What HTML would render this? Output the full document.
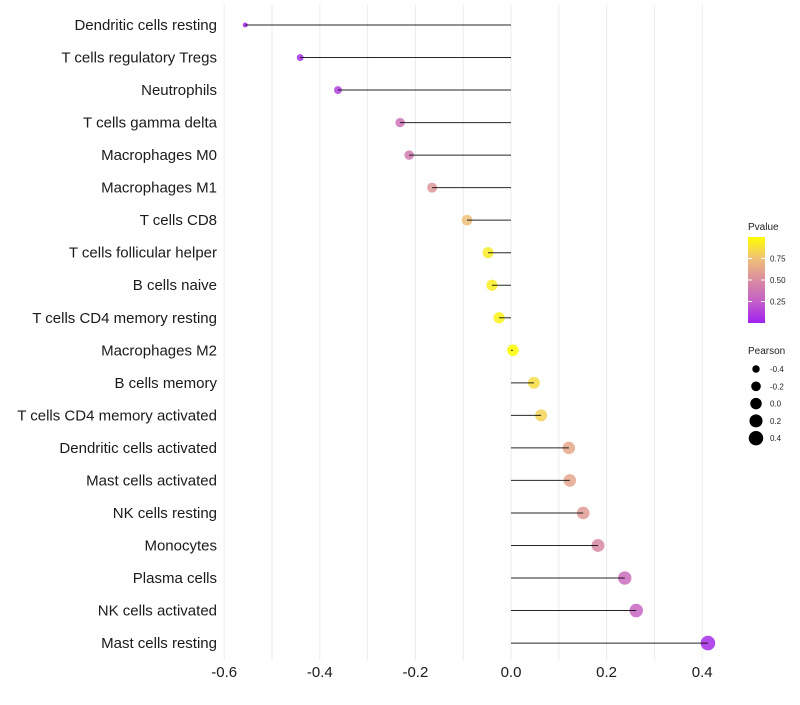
<!DOCTYPE html>
<html><head><meta charset="utf-8"><style>
body{margin:0;background:#fff;font-family:"Liberation Sans",sans-serif}
</style></head><body>
<svg id="chart" width="800" height="700" xmlns="http://www.w3.org/2000/svg"></svg>
<script>
const categories=["Dendritic cells resting","T cells regulatory  Tregs","Neutrophils","T cells gamma delta","Macrophages M0","Macrophages M1","T cells CD8","T cells follicular helper","B cells naive","T cells CD4 memory resting","Macrophages M2","B cells memory","T cells CD4 memory activated","Dendritic cells activated","Mast cells activated","NK cells resting","Monocytes","Plasma cells","NK cells activated","Mast cells resting"];
const pearson=[-0.556,-0.441,-0.362,-0.232,-0.213,-0.165,-0.092,-0.048,-0.040,-0.025,0.004,0.048,0.063,0.121,0.123,0.151,0.182,0.238,0.262,0.412];
const pvalue=[0.02,0.05,0.12,0.35,0.40,0.55,0.75,0.92,0.93,0.95,1.0,0.86,0.82,0.63,0.62,0.57,0.48,0.32,0.28,0.05];
const xTicks=[-0.6,-0.4,-0.2,0.0,0.2,0.4];
const colorTicks=[0.25,0.5,0.75];
const sizeTicks=[-0.4,-0.2,0.0,0.2,0.4];

const svg=document.getElementById('chart');
const NS="http://www.w3.org/2000/svg";
function mk(tag,attrs,parent){const e=document.createElementNS(NS,tag);for(const k in attrs)e.setAttribute(k,attrs[k]);(parent||svg).appendChild(e);return e;}
const x=v=>511+(v)*478;
const y=i=>25+i*32.53;
const r=v=>Math.sqrt(Math.max(4,33+48*v));
const stops=[[0,[160,32,240]],[0.25,[196,96,200]],[0.5,[218,140,160]],[0.75,[240,192,120]],[1,[255,255,0]]];
function col(p){for(let i=1;i<stops.length;i++){if(p<=stops[i][0]){const a=stops[i-1],b=stops[i];const t=(p-a[0])/(b[0]-a[0]);const c=a[1].map((v,k)=>Math.round(v+(b[1][k]-v)*t));return `rgb(${c})`;}}return 'rgb(255,255,0)';}

for(let v=-0.6;v<=0.41;v+=0.1){
  const g=mk('line',{x1:x(v),x2:x(v),y1:5,y2:660,stroke:'#ebebeb','stroke-width':1});
  
  
}
xTicks.forEach(t=>{
  const e=mk('text',{x:x(t),y:677,'text-anchor':'middle','font-size':15,fill:'#1a1a1a'});
  e.textContent=t.toFixed(1);
  
  
});
categories.forEach((c,i)=>{
  const t=mk('text',{x:217,y:y(i)+5,'text-anchor':'end','font-size':15,fill:'#1a1a1a'});
  t.textContent=c;
  
  
  const d=mk('circle',{cx:x(pearson[i]),cy:y(i),r:r(pearson[i]),fill:col(pvalue[i]),'fill-opacity':0.85});
  
  
  const l=mk('line',{x1:x(0),x2:x(pearson[i]),y1:y(i),y2:y(i),stroke:'#000','stroke-width':1,'stroke-opacity':0.85});
  
  
});
const lt=mk('text',{x:748,y:230,'font-size':10,fill:'#222'});lt.textContent='Pvalue';


const defs=mk('defs',{});
const lg=mk('linearGradient',{id:'pg',x1:0,y1:1,x2:0,y2:0},defs);
stops.forEach(s=>mk('stop',{offset:s[0],'stop-color':`rgb(${s[1]})`},lg));
const bar=mk('rect',{x:748,y:237,width:17,height:86,fill:'url(#pg)'});


colorTicks.forEach(t=>{
  const yy=323-t*86;
  mk('line',{x1:748,x2:752,y1:yy,y2:yy,stroke:'#fff'});
  mk('line',{x1:761,x2:765,y1:yy,y2:yy,stroke:'#fff'});
  const e=mk('text',{x:770,y:yy+3,'font-size':8,fill:'#222'});e.textContent=t.toFixed(2);
  
  
});
const st=mk('text',{x:748,y:354,'font-size':10,fill:'#222'});st.textContent='Pearson';


sizeTicks.forEach((t,i)=>{
  const yy=369+i*17.3;
  const c=mk('circle',{cx:756,cy:yy,r:r(t),fill:'#000'});
  
  
  const e=mk('text',{x:770,y:yy+3,'font-size':8,fill:'#222'});e.textContent=t.toFixed(1);
  
  
});
</script>
</body></html>
